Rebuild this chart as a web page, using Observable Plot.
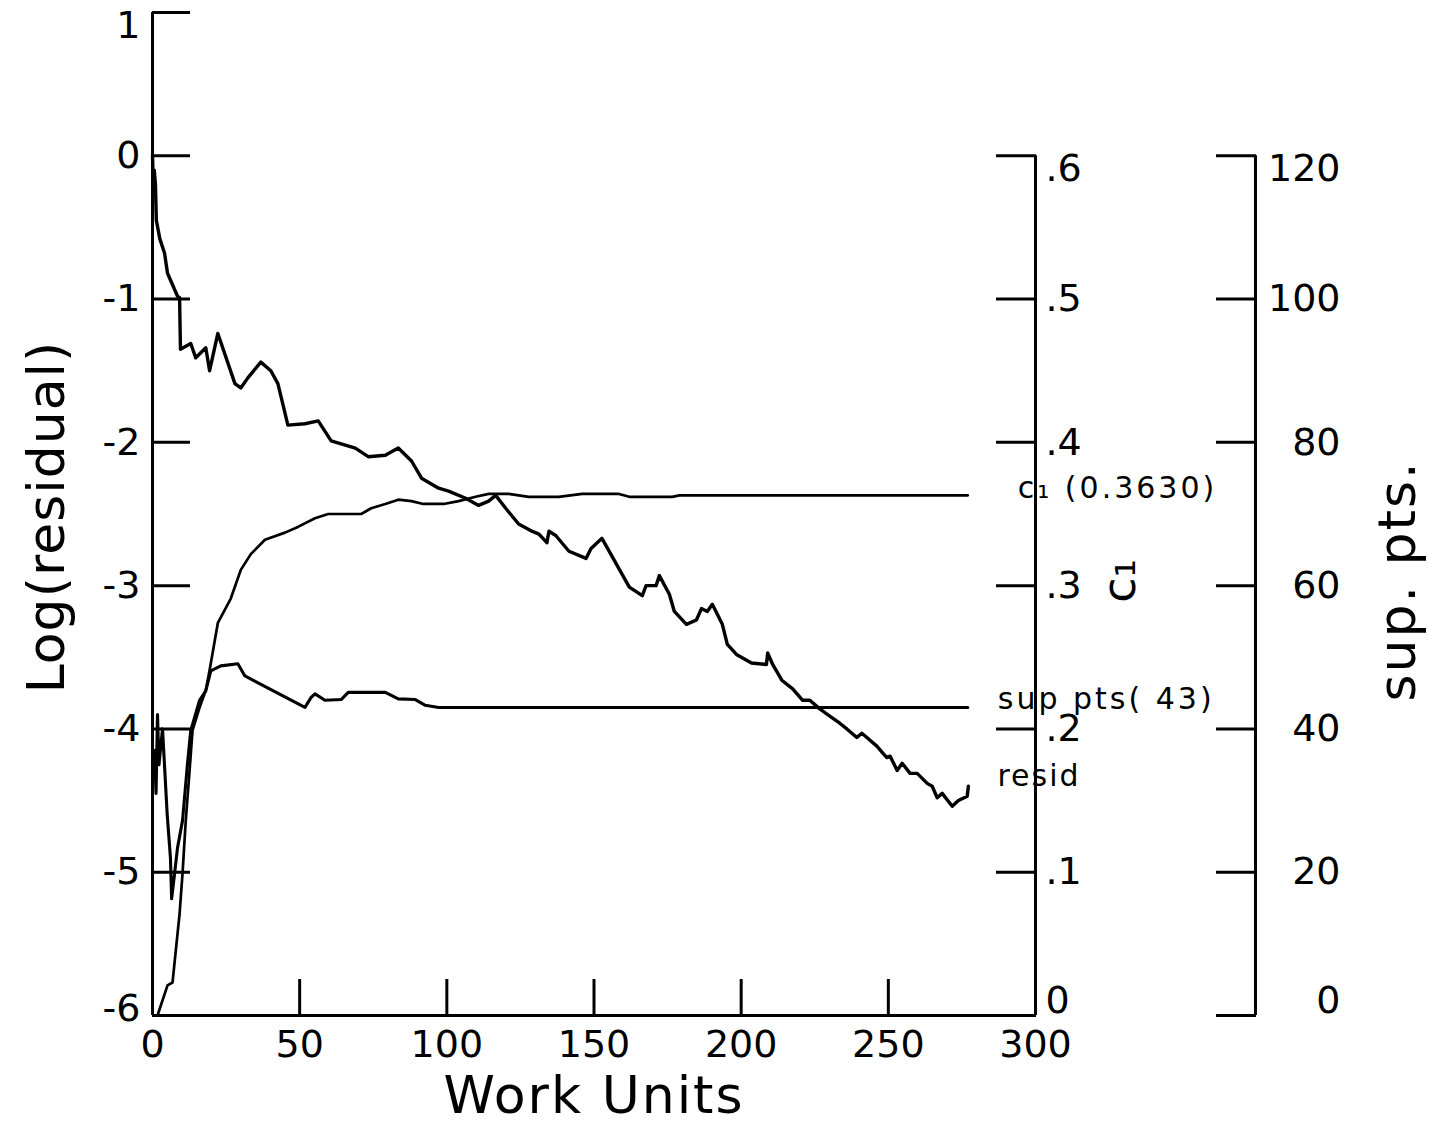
<!DOCTYPE html>
<html>
<head>
<meta charset="utf-8">
<script src="https://cdn.jsdelivr.net/npm/d3@7"></script>
<script src="https://cdn.jsdelivr.net/npm/@observablehq/plot@0.6"></script>
<style>
  html, body { margin: 0; padding: 0; background: #fff; }
  #chart { width: 1429px; height: 1126px; }
</style>
</head>
<body>
<div id="chart"></div>
<script>
// ---- data ----
const residX = [0,0.3,0.6,1,1.3,2.5,4.1,5.1,8.5,9.2,9.5,13,14.7,18.1,19.4,22.2,28,30,32.4,36.8,40.2,42.6,46,51.8,56.3,60.7,68.9,73.3,79.1,83.5,88,91.4,97.2,100.6,106.4,110.8,114.2,116.6,120,124.4,128.9,131.3,134,134.7,137,141.5,147.3,149,152.7,162,166.4,167.7,171.1,172.2,175.6,177.3,181.4,184.8,186.5,188.5,190.2,193.6,195.3,198.4,203.5,208.6,209,210.7,213.8,217.5,220.9,223.3,226.7,230.1,233.5,235.9,239.3,241,242.7,246.1,248.2,249.5,250.6,253,254.7,257.4,259.8,263.2,264.9,266.6,268.3,271.7,273.8,276.8,277.2];
const residLog = [0,-0.2,-0.1,-0.2,-0.45,-0.58,-0.68,-0.82,-0.98,-0.99,-1.35,-1.31,-1.41,-1.34,-1.50,-1.24,-1.59,-1.62,-1.55,-1.44,-1.50,-1.59,-1.88,-1.87,-1.85,-1.99,-2.04,-2.10,-2.09,-2.04,-2.13,-2.25,-2.32,-2.34,-2.39,-2.44,-2.41,-2.37,-2.46,-2.57,-2.62,-2.64,-2.70,-2.62,-2.65,-2.76,-2.81,-2.74,-2.67,-3.01,-3.07,-3.00,-3.00,-2.93,-3.06,-3.18,-3.27,-3.24,-3.16,-3.18,-3.13,-3.27,-3.41,-3.48,-3.54,-3.55,-3.47,-3.55,-3.66,-3.72,-3.80,-3.80,-3.86,-3.91,-3.96,-4.00,-4.06,-4.03,-4.06,-4.12,-4.17,-4.20,-4.19,-4.29,-4.24,-4.31,-4.31,-4.38,-4.40,-4.48,-4.45,-4.54,-4.50,-4.47,-4.40];

const c1X = [1.7,5.1,6.8,7.8,9.2,10.2,11.3,12.6,13.6,16,18.1,19.4,22.2,26.6,30,33.4,38.2,45,49.4,55.2,59.7,70.9,74.3,79.1,83.5,88,92,98.9,104,109.8,114.2,121,127.8,138,146,158.5,162,176.6,179,277];
const c1Val = [0,0.021,0.023,0.043,0.071,0.099,0.136,0.171,0.199,0.215,0.227,0.241,0.274,0.291,0.311,0.322,0.332,0.337,0.341,0.347,0.350,0.350,0.354,0.357,0.360,0.359,0.357,0.357,0.359,0.362,0.364,0.364,0.362,0.362,0.364,0.364,0.362,0.362,0.363,0.363];

const supX = [0,0.7,1.2,1.7,2.2,3.4,5,6.1,6.5,7.5,8.5,10.2,11.9,13,14.3,16,18.1,19.8,23.2,29,31.4,51.8,53.9,55.2,58.6,64.1,66.5,79.1,83.5,89.3,92.7,97.2,277];
const supVal = [33,37,31,42,35,40,28,22,16.3,19.8,23.4,27.2,35.2,39.8,41.6,44,45.3,48.1,48.8,49.1,47.4,43.0,44.4,44.9,44.0,44.1,45.1,45.1,44.2,44.1,43.3,43.0,43.0];

// final annotated values
const c1Final = 0.3630;
const supFinal = 43;

// tick values / labels
const xTicks = [0, 50, 100, 150, 200, 250, 300];
const xInnerTicks = [50, 100, 150, 200, 250];
const logTicks = [1, 0, -1, -2, -3, -4, -5, -6];
const c1Ticks = [0, 0.1, 0.2, 0.3, 0.4, 0.5, 0.6];
const c1Labels = ["0", ".1", ".2", ".3", ".4", ".5", ".6"];
const supTicks = [0, 20, 40, 60, 80, 100, 120];
const supLabels = ["0", "20", "40", "60", "80", "100", "120"];

const c1Text = `c\u2081 (${c1Final.toFixed(4)})`;
const supText = `sup pts( ${supFinal})`;
const residText = "resid";
const titles = ["Work Units", "Log(residual)", "sup. pts."];

const xDomain = [0, 300];
const yDomain = [-6, 1];

// secondary axes share the log-residual scale
const c1ToY = c => c * 10 - 6;
const supToY = s => s / 20 - 6;

const c1TickY = c1Ticks.map(c1ToY);
const supTickY = supTicks.map(supToY);
const key = y => Math.round(y * 1000);
const c1LabelOf = new Map(c1TickY.map((y, i) => [key(y), c1Labels[i]]));
const supLabelOf = new Map(supTickY.map((y, i) => [key(y), supLabels[i]]));

const SUP_AXIS_OFFSET = 220;
const SW = 3;
const FS = 38;
const font = "DejaVu Sans";

// split a tick list into top end / middle / bottom end (end labels sit nudged inward, as plotted)
const split = t => {
  const s = [...t].sort((a, b) => b - a);
  return { top: [s[0]], mid: s.slice(1, -1), bot: [s.at(-1)] };
};
const logSplit = split(logTicks);
const c1Split = split(c1TickY);
const supSplit = split(supTickY);

const labelAxes = (parts, opts) => [
  Plot.axisY(parts.top, { ...opts, dy: (opts.dy || 0) + 13 }),
  Plot.axisY(parts.mid, opts),
  Plot.axisY(parts.bot, { ...opts, dy: (opts.dy || 0) + opts.botDy })
];

const chart = Plot.plot({
  width: 1429,
  height: 1126,
  marginLeft: 152,
  marginRight: 394,
  marginTop: 12,
  marginBottom: 111,
  style: { fontFamily: font, background: "#fff", color: "#000", overflow: "visible" },
  x: { domain: xDomain },
  y: { domain: yDomain },
  marks: [
    // axis lines
    Plot.ruleX([xDomain[0]], { y1: yDomain[0], y2: yDomain[1], strokeWidth: SW }),
    Plot.ruleY([yDomain[0]], { x1: xDomain[0], x2: xDomain[1], strokeWidth: SW }),
    Plot.ruleX([xDomain[1]], { y1: c1ToY(c1Ticks[0]), y2: c1ToY(c1Ticks.at(-1)), strokeWidth: SW }),
    Plot.ruleX([xDomain[1]], { y1: supToY(supTicks[0]), y2: supToY(supTicks.at(-1)), dx: SUP_AXIS_OFFSET, strokeWidth: SW }),

    // left axis: inward ticks + labels
    Plot.axisY(logTicks, { anchor: "left", tickSize: -38, fill: "none", strokeWidth: SW, label: null }),
    ...labelAxes(logSplit, { anchor: "left", tickSize: 0, tickPadding: 12, fontSize: FS, tickFormat: d => String(d), label: null, botDy: -7 }),

    // bottom axis
    Plot.axisX(xInnerTicks, { anchor: "bottom", tickSize: -36, fill: "none", strokeWidth: SW, label: null }),
    Plot.axisX(xTicks, { anchor: "bottom", tickSize: 0, tickPadding: 15, fontSize: FS, tickFormat: d => String(d), label: null }),

    // c1 axis (right)
    Plot.axisY(c1TickY, { anchor: "right", tickSize: -40, fill: "none", strokeWidth: SW, label: null }),
    ...labelAxes(c1Split, { anchor: "right", tickSize: 0, tickPadding: 10, fontSize: FS, tickFormat: d => c1LabelOf.get(key(d)), label: null, botDy: -15 }),

    // sup. pts. axis (far right)
    Plot.axisY(supTickY, { anchor: "right", dx: SUP_AXIS_OFFSET, tickSize: -40, fill: "none", strokeWidth: SW, label: null }),
    ...labelAxes(supSplit, { anchor: "right", dx: SUP_AXIS_OFFSET, tickSize: 0, tickPadding: 85, textAnchor: "end", fontSize: FS, tickFormat: d => supLabelOf.get(key(d)), label: null, botDy: -15 }),

    // data lines
    Plot.line(residX, { x: residX, y: residLog, strokeWidth: 3.4, strokeLinejoin: "round", strokeLinecap: "round" }),
    Plot.line(c1X, { x: c1X, y: c1Val.map(c1ToY), strokeWidth: 2.7, strokeLinejoin: "round", strokeLinecap: "round" }),
    Plot.line(supX, { x: supX, y: supVal.map(supToY), strokeWidth: 3.1, strokeLinejoin: "round", strokeLinecap: "round" }),

    // line-end annotations
    Plot.text([0], { x: [c1X.at(-1)], y: [c1ToY(c1Final)], text: [c1Text], textAnchor: "start", dx: 50, dy: -7, fontSize: 30 }),
    Plot.text([0], { x: [supX.at(-1)], y: [supToY(supFinal)], text: [supText], textAnchor: "start", dx: 30, dy: -8, fontSize: 30 }),
    Plot.text([0], { x: [residX.at(-1)], y: [residLog.at(-1)], text: [residText], textAnchor: "start", dx: 29, dy: -10, fontSize: 30 }),

    // axis titles
    Plot.text([titles[0]], { frameAnchor: "bottom", textAnchor: "middle", dy: 97, fontSize: 52 }),
    Plot.text([titles[1]], { frameAnchor: "left", textAnchor: "middle", dx: -105, dy: 3, rotate: -90, fontSize: 52 }),
    Plot.text([titles[2]], { frameAnchor: "right", textAnchor: "middle", dx: 363, dy: 67, rotate: -90, fontSize: 52 }),
    Plot.text(["c\u2081"], { frameAnchor: "right", textAnchor: "middle", dx: 85, dy: 67, rotate: -90, fontSize: 46 })
  ]
});

// plotter-style wide letter spacing for annotations and titles
const spaced = new Map([[c1Text, 3], [supText, 3], [residText, 2], [titles[0], 2], [titles[1], 1], [titles[2], 2]]);
d3.select(chart).selectAll("text").each(function () {
  const t = this.textContent;
  if (spaced.has(t)) this.setAttribute("letter-spacing", spaced.get(t) + "px");
});

document.getElementById("chart").appendChild(chart);
</script>
</body>
</html>
